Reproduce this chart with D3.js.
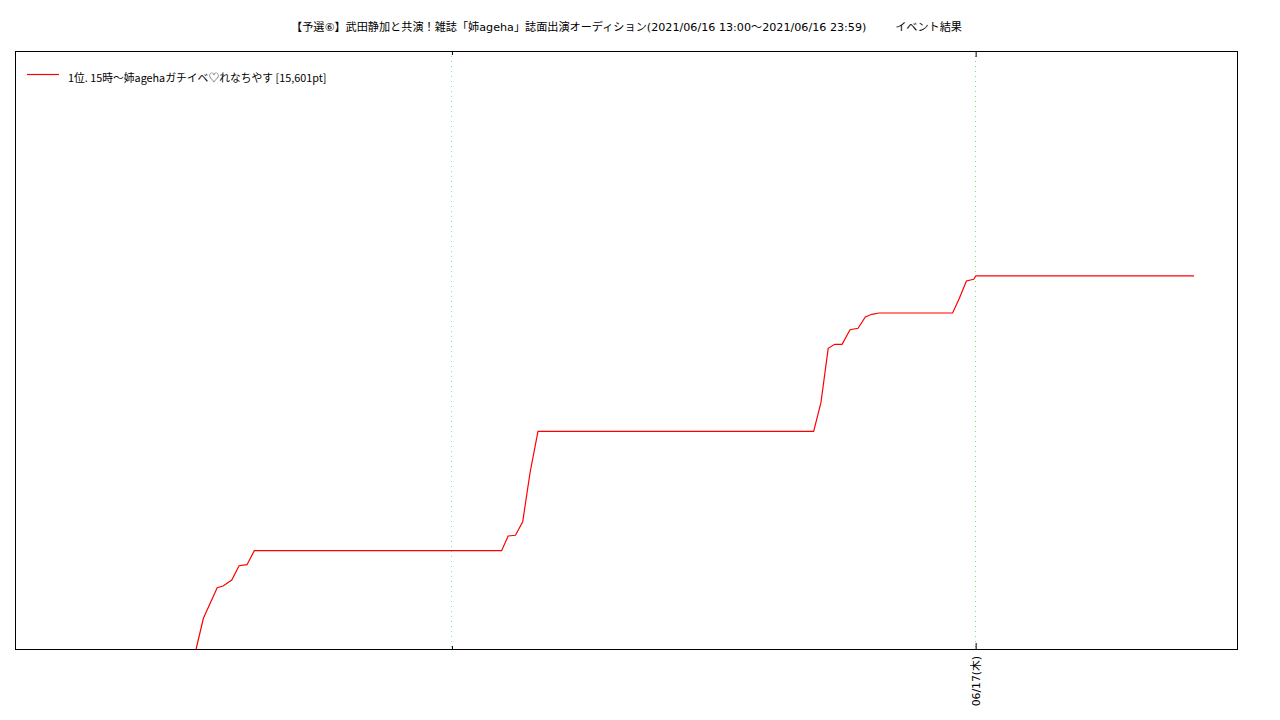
<!DOCTYPE html>
<html><head><meta charset="utf-8">
<script src="https://cdn.jsdelivr.net/npm/d3@7"></script>
<style>body{margin:0;background:#fff;}svg{display:block;font-family:"Noto Sans CJK JP","Noto Sans",sans-serif;}</style>
</head><body>
<svg id="c" width="1280" height="720"></svg>
<script>
const title = "【予選⑥】武田静加と共演！雑誌「姉ageha」誌面出演オーディション(2021/06/16 13:00～2021/06/16 23:59)";
const titleSuffix = "イベント結果";
const seriesName = "1位. 15時～姉agehaガチイベ♡れなちやす [15,601pt]";
const xDomain = ["2021-06-16T02:00", "2021-06-17T06:00"];
const yDomain = [0, 25000];
const majorTicks = ["2021-06-17T00:00"];
const minorTicks = ["2021-06-16T12:00"];
const tickLabels = ["06/17(木)"];
const times = ["2021-06-16T06:09","2021-06-16T06:19","2021-06-16T06:38","2021-06-16T06:46","2021-06-16T06:58","2021-06-16T07:08","2021-06-16T07:19","2021-06-16T07:29","2021-06-16T13:09","2021-06-16T13:18","2021-06-16T13:28","2021-06-16T13:38","2021-06-16T13:48","2021-06-16T13:59","2021-06-16T20:18","2021-06-16T20:28","2021-06-16T20:38","2021-06-16T20:47","2021-06-16T20:57","2021-06-16T21:08","2021-06-16T21:19","2021-06-16T21:29","2021-06-16T21:38","2021-06-16T21:48","2021-06-16T23:29","2021-06-16T23:38","2021-06-16T23:48","2021-06-16T23:58","2021-06-17T00:01","2021-06-17T05:01"];
const points = [0,1283,2563,2634,2885,3483,3524,4110,4110,4724,4753,5322,7358,9101,9101,10297,12571,12738,12738,13349,13407,13880,13992,14047,14047,14645,15385,15456,15601,15601];

const parse = d3.timeParse("%Y-%m-%dT%H:%M");
const svg = d3.select("#c");
const L=15,R=1237,T=51,B=649;
const x = d3.scaleTime().domain(xDomain.map(parse)).range([L,R]);
const y = d3.scaleLinear().domain(yDomain).range([B,T]);

// grid
svg.selectAll(".gmin").data(minorTicks.map(parse)).enter().append("line")
  .attr("x1",d=>Math.round(x(d))+0.5).attr("x2",d=>Math.round(x(d))+0.5).attr("y1",T).attr("y2",B)
  .attr("stroke","#70e4ec").attr("stroke-width",1).attr("stroke-dasharray","1,4");
svg.selectAll(".gmaj").data(majorTicks.map(parse)).enter().append("line")
  .attr("x1",d=>Math.round(x(d))+0.5).attr("x2",d=>Math.round(x(d))+0.5).attr("y1",T).attr("y2",B)
  .attr("stroke","#70e470").attr("stroke-width",1).attr("stroke-dasharray","1,4");

// axes (inward ticks)
const axB = d3.axisBottom(x).tickValues(majorTicks.map(parse)).tickSize(-6).tickFormat((d,i)=>tickLabels[i]);
const gB = svg.append("g").attr("transform",`translate(0.5,${B})`).call(axB);
gB.select(".domain").remove();
gB.selectAll(".tick line").attr("stroke","#000");
gB.selectAll(".tick text").attr("transform","rotate(-90)").attr("text-anchor","end")
  .attr("x",-7).attr("y",0).attr("dy","0.35em").attr("font-size",10.8)
  .attr("font-family",'"DejaVu Sans","Noto Sans CJK JP",sans-serif').attr("fill","#000");
const axBm = d3.axisBottom(x).tickValues(minorTicks.map(parse)).tickSize(-3).tickFormat("");
const gBm = svg.append("g").attr("transform",`translate(0.5,${B})`).call(axBm);
gBm.select(".domain").remove();
const axT = d3.axisTop(x).tickValues(majorTicks.map(parse)).tickSize(-6).tickFormat("");
const gT = svg.append("g").attr("transform",`translate(0.5,${T})`).call(axT);
gT.select(".domain").remove();
const axTm = d3.axisTop(x).tickValues(minorTicks.map(parse)).tickSize(-4).tickFormat("");
const gTm = svg.append("g").attr("transform",`translate(0.5,${T})`).call(axTm);
gTm.select(".domain").remove();

// frame
svg.append("rect").attr("x",L+0.5).attr("y",T+0.5).attr("width",R-L).attr("height",B-T)
  .attr("fill","none").attr("stroke","#000").attr("stroke-width",1);

// line
const data = times.map((t,i)=>({t:parse(t),v:points[i]}));
svg.append("path").datum(data)
  .attr("d",d3.line().x(d=>x(d.t)).y(d=>y(d.v)))
  .attr("fill","none").attr("stroke","#ff0000").attr("stroke-width",1.2);

// title
const tf = '"DejaVu Sans","Noto Sans CJK JP",sans-serif';
svg.append("text").attr("x",291).attr("y",31).attr("font-size",11.15).attr("font-family",tf).attr("fill","#000").text(title);
svg.append("text").attr("x",962).attr("y",31).attr("text-anchor","end").attr("font-size",11.15).attr("font-family",tf).attr("fill","#000").text(titleSuffix);

// legend
svg.append("line").attr("x1",27).attr("x2",59).attr("y1",74.5).attr("y2",74.5).attr("stroke","#ff0000").attr("stroke-width",1.2);
svg.append("text").attr("x",68).attr("y",82).attr("font-size",10.8).attr("fill","#000")
  .attr("font-family",'"Noto Sans CJK JP",sans-serif').text(seriesName);
</script>
</body></html>
